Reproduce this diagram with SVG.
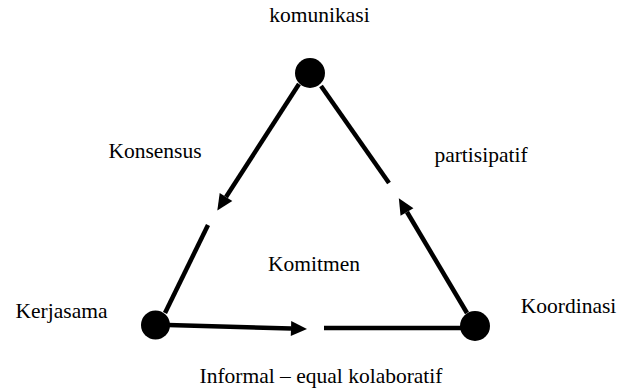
<svg xmlns="http://www.w3.org/2000/svg" width="630" height="389" viewBox="0 0 630 389">
<style>
.lbl{font-family:'Liberation Serif','Times New Roman',serif;font-size:21.5px;fill:#000;text-anchor:middle}
.edge{stroke:#000;stroke-width:4.5;fill:none;stroke-linecap:butt}
.dot{fill:#000}
</style>
<defs>
<marker id="ah" markerUnits="userSpaceOnUse" markerWidth="18" markerHeight="17" refX="0" refY="7.5" orient="auto" overflow="visible">
<path d="M0,0 L16,7.5 L0,15 z" fill="#000"/>
</marker>
</defs>
<rect width="630" height="389" fill="#fff"/>
<g id="connectors">
<line class="edge" x1="299" y1="84" x2="226" y2="197" marker-end="url(#ah)"/>
<line class="edge" x1="208" y1="225" x2="165" y2="313"/>
<line class="edge" x1="467" y1="313" x2="407" y2="212" marker-end="url(#ah)"/>
<line class="edge" x1="321" y1="86" x2="389" y2="183"/>
<line class="edge" x1="168" y1="325" x2="291" y2="328.5" marker-end="url(#ah)"/>
<line class="edge" x1="324" y1="328" x2="462" y2="328"/>
</g>
<g id="node-komunikasi">
<circle class="dot" cx="310" cy="73" r="15"/>
<text class="lbl" x="319.5" y="22">komunikasi</text>
</g>
<g id="node-kerjasama">
<circle class="dot" cx="155.5" cy="325" r="14.5"/>
<text class="lbl" x="61.5" y="318">Kerjasama</text>
</g>
<g id="node-koordinasi">
<circle class="dot" cx="475" cy="326" r="15"/>
<text class="lbl" x="568.5" y="313">Koordinasi</text>
</g>
<g id="labels">
<text class="lbl" x="155" y="158">Konsensus</text>
<text class="lbl" x="481" y="162">partisipatif</text>
<text class="lbl" x="314" y="271">Komitmen</text>
<text class="lbl" x="321" y="383">Informal – equal kolaboratif</text>
</g>
</svg>
